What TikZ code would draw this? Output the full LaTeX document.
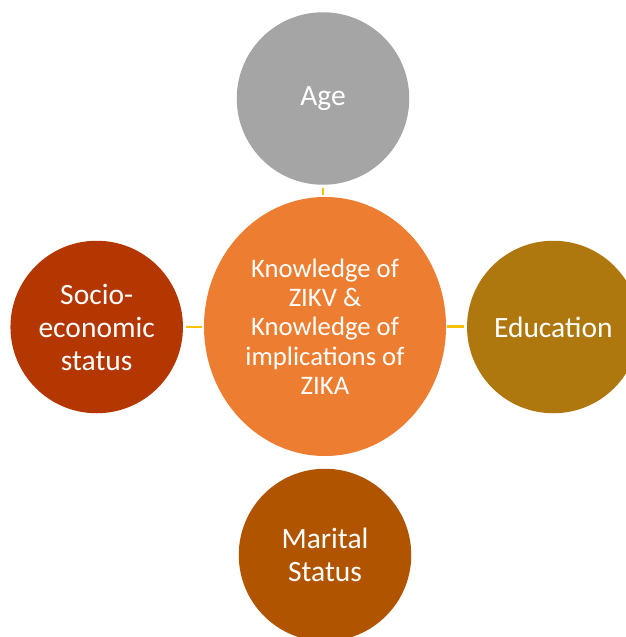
\documentclass[tikz,border=0pt]{standalone}
\usepackage{fontspec}
\setmainfont{Carlito}
\usetikzlibrary{shapes.geometric}
\definecolor{agegray}{RGB}{165,165,165}
\definecolor{centerorange}{RGB}{237,125,49}
\definecolor{socioc}{RGB}{180,54,0}
\definecolor{educ}{RGB}{174,120,14}
\definecolor{maritc}{RGB}{177,84,0}
\definecolor{linky}{RGB}{255,192,0}
\begin{document}
\begin{tikzpicture}[x=1pt,y=-1pt,
  outer/.style={circle,minimum size=172.5pt,inner sep=0pt,text=white,align=center,
    font=\fontsize{29.5}{33}\selectfont},
  hub/.style={ellipse,minimum width=242pt,minimum height=259pt,inner sep=0pt,
    fill=centerorange,text=white,align=center,font=\fontsize{26.7}{29.3}\selectfont},
  link/.style={draw=linky,line width=2.8pt}]
\clip (0,0) rectangle (626,637);
\useasboundingbox (0,0) rectangle (626,637);
\fill[white] (0,0) rectangle (626,637);
\node[hub] (c) at (325,326.5) {Knowledge of\\ZIKV \&\\Knowledge of\\implications of\\ZIKA};
\node[outer,fill=agegray] (age) at (323,98.5) {Age};
\node[outer,fill=socioc] (soc) at (96.7,327) {Socio-\\economic\\status};
\node[outer,fill=educ] (edu) at (553.3,327) {Education};
\node[outer,fill=maritc] (mar) at (325,555) {Marital\\Status};
\draw[link,shorten <=3.5pt,shorten >=2pt] (age.south) -- (age.south |- c.north);
\draw[link,shorten <=3pt,shorten >=1.5pt] (soc.east) -- (soc.east -| c.west);
\draw[link,shorten <=0.7pt,shorten >=2.7pt] (c.east) -- (c.east -| edu.west);
\draw[link,shorten <=3pt,shorten >=3pt] (c.south) -- (c.south -| mar.north);
\end{tikzpicture}
\end{document}
